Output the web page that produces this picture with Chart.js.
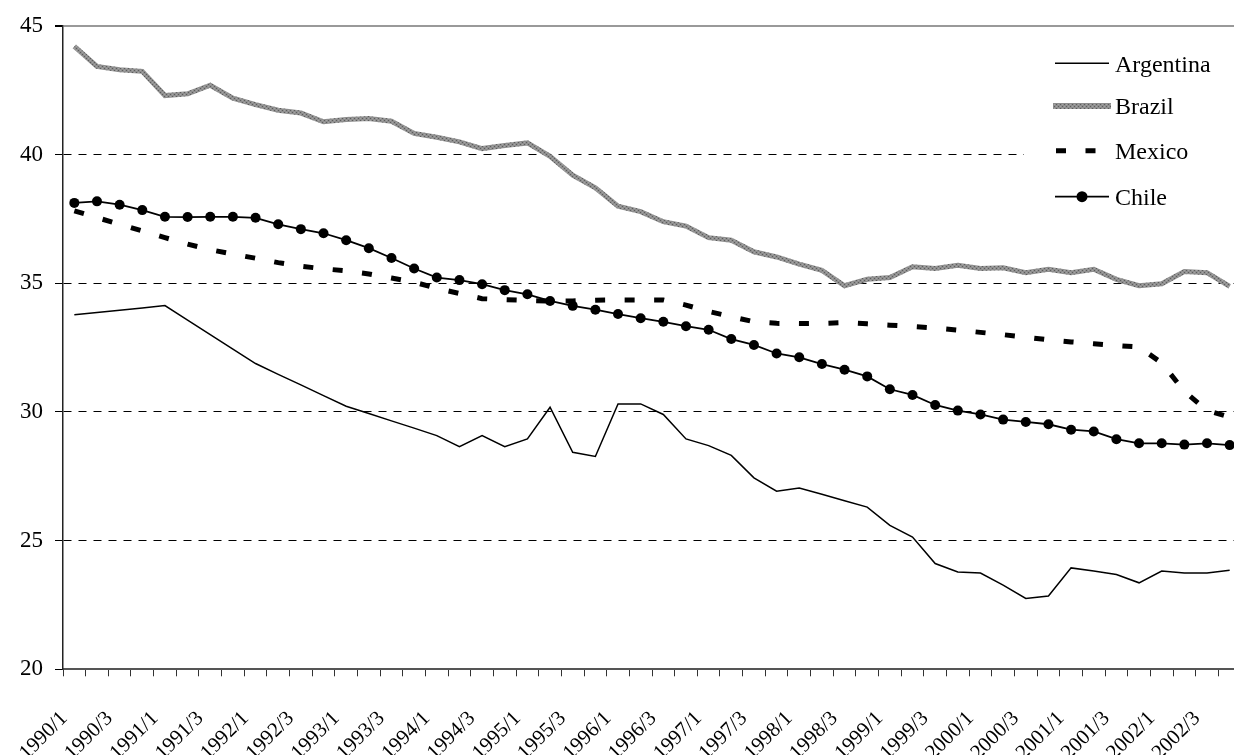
<!DOCTYPE html>
<html>
<head>
<meta charset="utf-8">
<script src="https://cdn.jsdelivr.net/npm/chart.js@4.4.1/dist/chart.umd.min.js"></script>
<style>
  html, body { margin: 0; padding: 0; background: #fff; overflow: hidden; }
  #wrap { width: 1234px; height: 755px; overflow: hidden; }
</style>
</head>
<body>
<div id="wrap"><canvas id="chart" width="1246" height="755"></canvas></div>
<script>
const quarters = [
  '1990/1', '1990/2', '1990/3', '1990/4', '1991/1', '1991/2', '1991/3', '1991/4',
  '1992/1', '1992/2', '1992/3', '1992/4', '1993/1', '1993/2', '1993/3', '1993/4',
  '1994/1', '1994/2', '1994/3', '1994/4', '1995/1', '1995/2', '1995/3', '1995/4',
  '1996/1', '1996/2', '1996/3', '1996/4', '1997/1', '1997/2', '1997/3', '1997/4',
  '1998/1', '1998/2', '1998/3', '1998/4', '1999/1', '1999/2', '1999/3', '1999/4',
  '2000/1', '2000/2', '2000/3', '2000/4', '2001/1', '2001/2', '2001/3', '2001/4',
  '2002/1', '2002/2', '2002/3', '2002/4'
];

const argentina = [
  33.77, 33.86, 33.95, 34.04, 34.13, 33.57, 33.00, 32.44, 31.88, 31.46,
  31.05, 30.63, 30.22, 29.94, 29.65, 29.37, 29.08, 28.65, 29.08, 28.65,
  28.95, 30.18, 28.43, 28.27, 30.31, 30.31, 29.90, 28.95, 28.69, 28.31,
  27.44, 26.92, 27.04, 26.80, 26.55, 26.30, 25.59, 25.14, 24.11, 23.78,
  23.74, 23.27, 22.75, 22.85, 23.94, 23.82, 23.68, 23.36, 23.82, 23.74,
  23.74, 23.85
];

const brazil = [
  44.20, 43.42, 43.29, 43.23, 42.29, 42.36, 42.69, 42.19, 41.94, 41.72,
  41.61, 41.27, 41.36, 41.40, 41.29, 40.82, 40.67, 40.49, 40.23, 40.35,
  40.45, 39.93, 39.20, 38.71, 37.99, 37.78, 37.39, 37.22, 36.77, 36.67,
  36.22, 36.02, 35.74, 35.50, 34.90, 35.15, 35.22, 35.64, 35.57, 35.70,
  35.57, 35.60, 35.41, 35.54, 35.41, 35.54, 35.15, 34.90, 34.98, 35.45,
  35.41, 34.88
];

const mexico = [
  37.81, 37.55, 37.29, 37.03, 36.77, 36.52, 36.30, 36.13, 35.97, 35.80,
  35.66, 35.56, 35.48, 35.36, 35.20, 35.04, 34.80, 34.60, 34.40, 34.36,
  34.33, 34.30, 34.31, 34.34, 34.35, 34.35, 34.35, 34.15, 33.90, 33.70,
  33.50, 33.44, 33.43, 33.44, 33.47, 33.42, 33.37, 33.32, 33.26, 33.18,
  33.09, 33.00, 32.90, 32.80, 32.72, 32.65, 32.58, 32.52, 31.90, 30.80,
  30.05, 29.80
];

const chile = [
  38.12, 38.18, 38.05, 37.84, 37.58, 37.57, 37.58, 37.58, 37.54, 37.29,
  37.10, 36.94, 36.67, 36.36, 35.98, 35.57, 35.22, 35.12, 34.96, 34.73,
  34.57, 34.31, 34.12, 33.97, 33.80, 33.64, 33.50, 33.33, 33.19, 32.83,
  32.60, 32.27, 32.12, 31.86, 31.64, 31.38, 30.88, 30.66, 30.27, 30.05,
  29.90, 29.70, 29.61, 29.52, 29.31, 29.24, 28.94, 28.78, 28.78, 28.73,
  28.78, 28.71
];

const yMin = 20;
const yMax = 45;
const yStep = 5;

const serif = "'Liberation Serif', 'Times New Roman', serif";

// speckled grey stroke for Brazil
function greyTexture() {
  const c = document.createElement('canvas');
  c.width = 4;
  c.height = 4;
  const g = c.getContext('2d');
  g.fillStyle = '#8e8e8e';
  g.fillRect(0, 0, 4, 4);
  g.fillStyle = '#5c5c5c';
  g.fillRect(0, 0, 1, 1);
  g.fillRect(2, 2, 1, 1);
  g.fillStyle = '#a4a4a4';
  g.fillRect(2, 0, 1, 1);
  g.fillRect(0, 2, 1, 1);
  return g.createPattern(c, 'repeat');
}

// legend sits inside the plot, top right, on a white box
const cornerLegend = {
  id: 'cornerLegend',
  afterDraw(chart) {
    const ctx = chart.ctx;
    const rows = [63.3, 106, 150.7, 196.7];
    const x0 = 1055, x1 = 1109;
    ctx.save();
    ctx.fillStyle = '#fff';
    ctx.fillRect(1024, 38, chart.width - 1024, 184);
    chart.data.datasets.forEach((ds, i) => {
      const y = rows[i];
      ctx.beginPath();
      ctx.setLineDash(ds.borderDash || []);
      ctx.lineDashOffset = 0;
      ctx.lineCap = 'butt';
      ctx.lineWidth = ds.label === 'Brazil' ? 6 : ds.borderWidth;
      ctx.strokeStyle = ds.borderColor;
      const start = ds.label === 'Brazil' ? x0 - 2 : (ds.label === 'Mexico' ? x0 + 1 : x0);
      const end = ds.label === 'Brazil' ? x1 + 2 : x1;
      ctx.moveTo(start, y);
      ctx.lineTo(end, y);
      ctx.stroke();
      if (ds.pointRadius > 0) {
        ctx.setLineDash([]);
        ctx.beginPath();
        ctx.fillStyle = ds.pointBackgroundColor;
        ctx.arc((x0 + x1) / 2, y, ds.pointRadius + 0.5, 0, Math.PI * 2);
        ctx.fill();
      }
      ctx.fillStyle = '#000';
      ctx.font = '24px ' + serif;
      ctx.textAlign = 'left';
      ctx.textBaseline = 'alphabetic';
      ctx.fillText(ds.label, 1115, y + 8.4);
    });
    ctx.restore();
  }
};

new Chart(document.getElementById('chart'), {
  type: 'line',
  data: {
    labels: quarters,
    datasets: [
      {
        label: 'Argentina',
        data: argentina,
        borderColor: '#000',
        borderWidth: 1.5,
        pointRadius: 0,
        tension: 0,
      },
      {
        label: 'Brazil',
        data: brazil,
        borderColor: greyTexture(),
        borderWidth: 5,
        pointRadius: 0,
        tension: 0,
      },
      {
        label: 'Mexico',
        data: mexico,
        borderColor: '#000',
        borderWidth: 5,
        borderDash: [10, 19.5],
        borderCapStyle: 'butt',
        pointRadius: 0,
        tension: 0,
      },
      {
        label: 'Chile',
        data: chile,
        borderColor: '#000',
        borderWidth: 1.8,
        pointRadius: 5,
        pointBackgroundColor: '#000',
        pointBorderWidth: 0,
        tension: 0,
      },
    ],
  },
  options: {
    responsive: false,
    animation: false,
    events: [],
    layout: { padding: { top: 24, left: 0, right: 0, bottom: 0 } },
    plugins: {
      legend: { display: false },
      tooltip: { enabled: false },
    },
    scales: {
      x: {
        offset: true,
        grid: {
          offset: true,
          drawOnChartArea: false,
          drawTicks: true,
          tickLength: 7,
          tickColor: '#333',
          tickWidth: 1,
        },
        border: { color: '#555', width: 2 },
        ticks: {
          autoSkip: false,
          minRotation: 45,
          maxRotation: 45,
          padding: 30,
          labelOffset: -10,
          color: '#000',
          font: { family: serif, size: 21 },
          callback: (v, i) => (i % 2 === 0 ? quarters[i] : ''),
        },
        afterFit: (s) => {
          s.height = 85.7;
          s.paddingLeft = 0;
          s.paddingRight = 0;
        },
      },
      y: {
        min: yMin,
        max: yMax,
        ticks: {
          stepSize: yStep,
          padding: 12,
          color: '#000',
          font: { family: serif, size: 23 },
        },
        grid: {
          color: (c) => (c.tick && c.tick.value === yMax ? '#999' : '#000'),
          lineWidth: (c) => (c.tick && c.tick.value === yMax ? 2 : 1),
          tickLength: 8,
          tickColor: '#000',
        },
        border: {
          color: '#222',
          width: 1.5,
          dash: (c) => (c.tick && c.tick.value > yMin && c.tick.value < yMax ? [8, 7] : []),
        },
        afterFit: (s) => { s.width = 63; },
      },
    },
  },
  plugins: [cornerLegend],
});
</script>
</body>
</html>
